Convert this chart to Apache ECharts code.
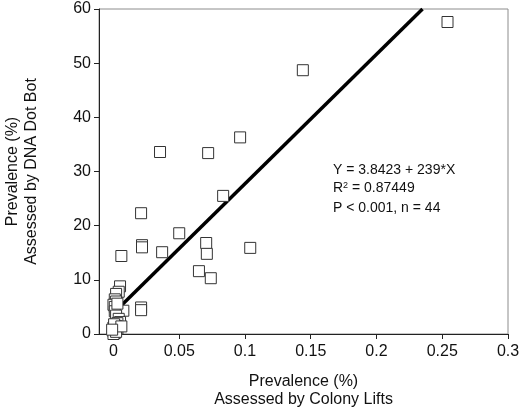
<!DOCTYPE html>
<html>
<head>
<meta charset="utf-8">
<script src="https://cdn.jsdelivr.net/npm/echarts@6/dist/echarts.min.js"></script>
<style>html,body{margin:0;padding:0;background:#fff}#c{width:523px;height:415px}</style>
</head>
<body>
<div id="c"></div>
<script>
// Colony lift prevalence (x, %) and DNA dot blot prevalence (y, %)
const xValues = [0.254, 0.144, 0.0963, 0.0354, 0.072, 0.0834, 0.021, 0.050, 0.0217, 0.0217, 0.037, 0.0705, 0.071, 0.104, 0.065, 0.074, 0.006, 0.021, 0.021,
  0.005, 0.004, 0.002, 0.001, 0.002, 0.000, 0.001, 0.0075, 0.001, 0.002, 0.004, 0.005, 0.003, 0.002, 0.000, 0.001, 0.003, 0.000, 0.001, 0.000, 0.002, 0.0005, 0.006, -0.001, 0.003];
const yValues = [57.6, 48.7, 36.3, 33.6, 33.4, 25.5, 22.3, 18.6, 16.4, 16.0, 15.1, 16.8, 14.8, 15.9, 11.6, 10.3, 14.4, 4.9, 4.4,
  8.8, 7.8, 7.4, 6.4, 6.0, 5.4, 5.0, 4.3, 4.2, 3.4, 2.8, 2.2, 2.0, 1.5, 1.2, 0.9, 1.0, 0.5, 0.2, 0.0, 0.4, 1.8, 1.4, 0.8, 5.6];
const fitIntercept = 3.8423;
const fitSlope = 239;
const fitX = [0.005, 0.235];
const xTicks = [0, 0.05, 0.1, 0.15, 0.2, 0.25, 0.3];

const points = xValues.map((x, i) => [x, yValues[i]]);
const fitLine = fitX.map(x => [x, fitIntercept + fitSlope * x]);

const font = 'Liberation Sans, Arial, sans-serif';
const chart = echarts.init(document.getElementById('c'), null, {renderer: 'canvas'});
chart.setOption({
  animation: false,
  backgroundColor: '#fff',
  grid: {left: 99, right: 15, top: 9, bottom: 81, containLabel: false, outerBoundsMode: 'none', show: true, borderColor: '#8c8c8c', borderWidth: 1, backgroundColor: 'transparent'},
  xAxis: {
    type: 'value', min: -0.011, max: 0.3,
    name: 'Prevalence (%)\nAssessed by Colony Lifts',
    nameLocation: 'middle', nameGap: 39,
    nameTextStyle: {fontFamily: font, fontSize: 16, color: '#111', lineHeight: 18},
    axisLine: {onZero: false, lineStyle: {color: '#222', width: 1}},
    axisTick: {show: true, length: 5, customValues: xTicks, lineStyle: {color: '#222'}},
    axisLabel: {customValues: xTicks, margin: 10, fontFamily: font, fontSize: 16, color: '#111', formatter: v => String(v)},
    splitLine: {show: false}
  },
  yAxis: {
    type: 'value', min: 0, max: 60, interval: 10,
    name: 'Prevalence (%)\nAssessed by DNA Dot Bot',
    nameLocation: 'middle', nameGap: 58,
    nameTextStyle: {fontFamily: font, fontSize: 16, color: '#111', lineHeight: 19},
    axisLine: {onZero: false, lineStyle: {color: '#222', width: 1}},
    axisTick: {show: true, length: 5, lineStyle: {color: '#222'}},
    axisLabel: {margin: 8, fontFamily: font, fontSize: 16, color: '#111'},
    splitLine: {show: false}
  },
  series: [
    {
      type: 'line', data: fitLine, symbol: 'none', z: 2,
      lineStyle: {color: '#000', width: 3.5}
    },
    {
      type: 'scatter', data: points, symbol: 'rect', symbolSize: 11, clip: false, z: 3,
      itemStyle: {color: '#fff', borderColor: '#333', borderWidth: 1, opacity: 1}
    }
  ],
  graphic: [
    {type: 'text', left: 333, top: 163, style: {text: 'Y = 3.8423 + 239*X', fontFamily: font, fontSize: 14, fill: '#111'}},
    {type: 'text', left: 333, top: 181, style: {text: 'R{sup|2} = 0.87449', fontFamily: font, fontSize: 14, fill: '#111', rich: {sup: {fontSize: 9, verticalAlign: 'top', padding: [0, 0, 6, 0], fontFamily: font, fill: '#111'}}}},
    {type: 'text', left: 333, top: 201, style: {text: 'P < 0.001, n = 44', fontFamily: font, fontSize: 14, fill: '#111'}}
  ]
});
</script>
</body>
</html>
